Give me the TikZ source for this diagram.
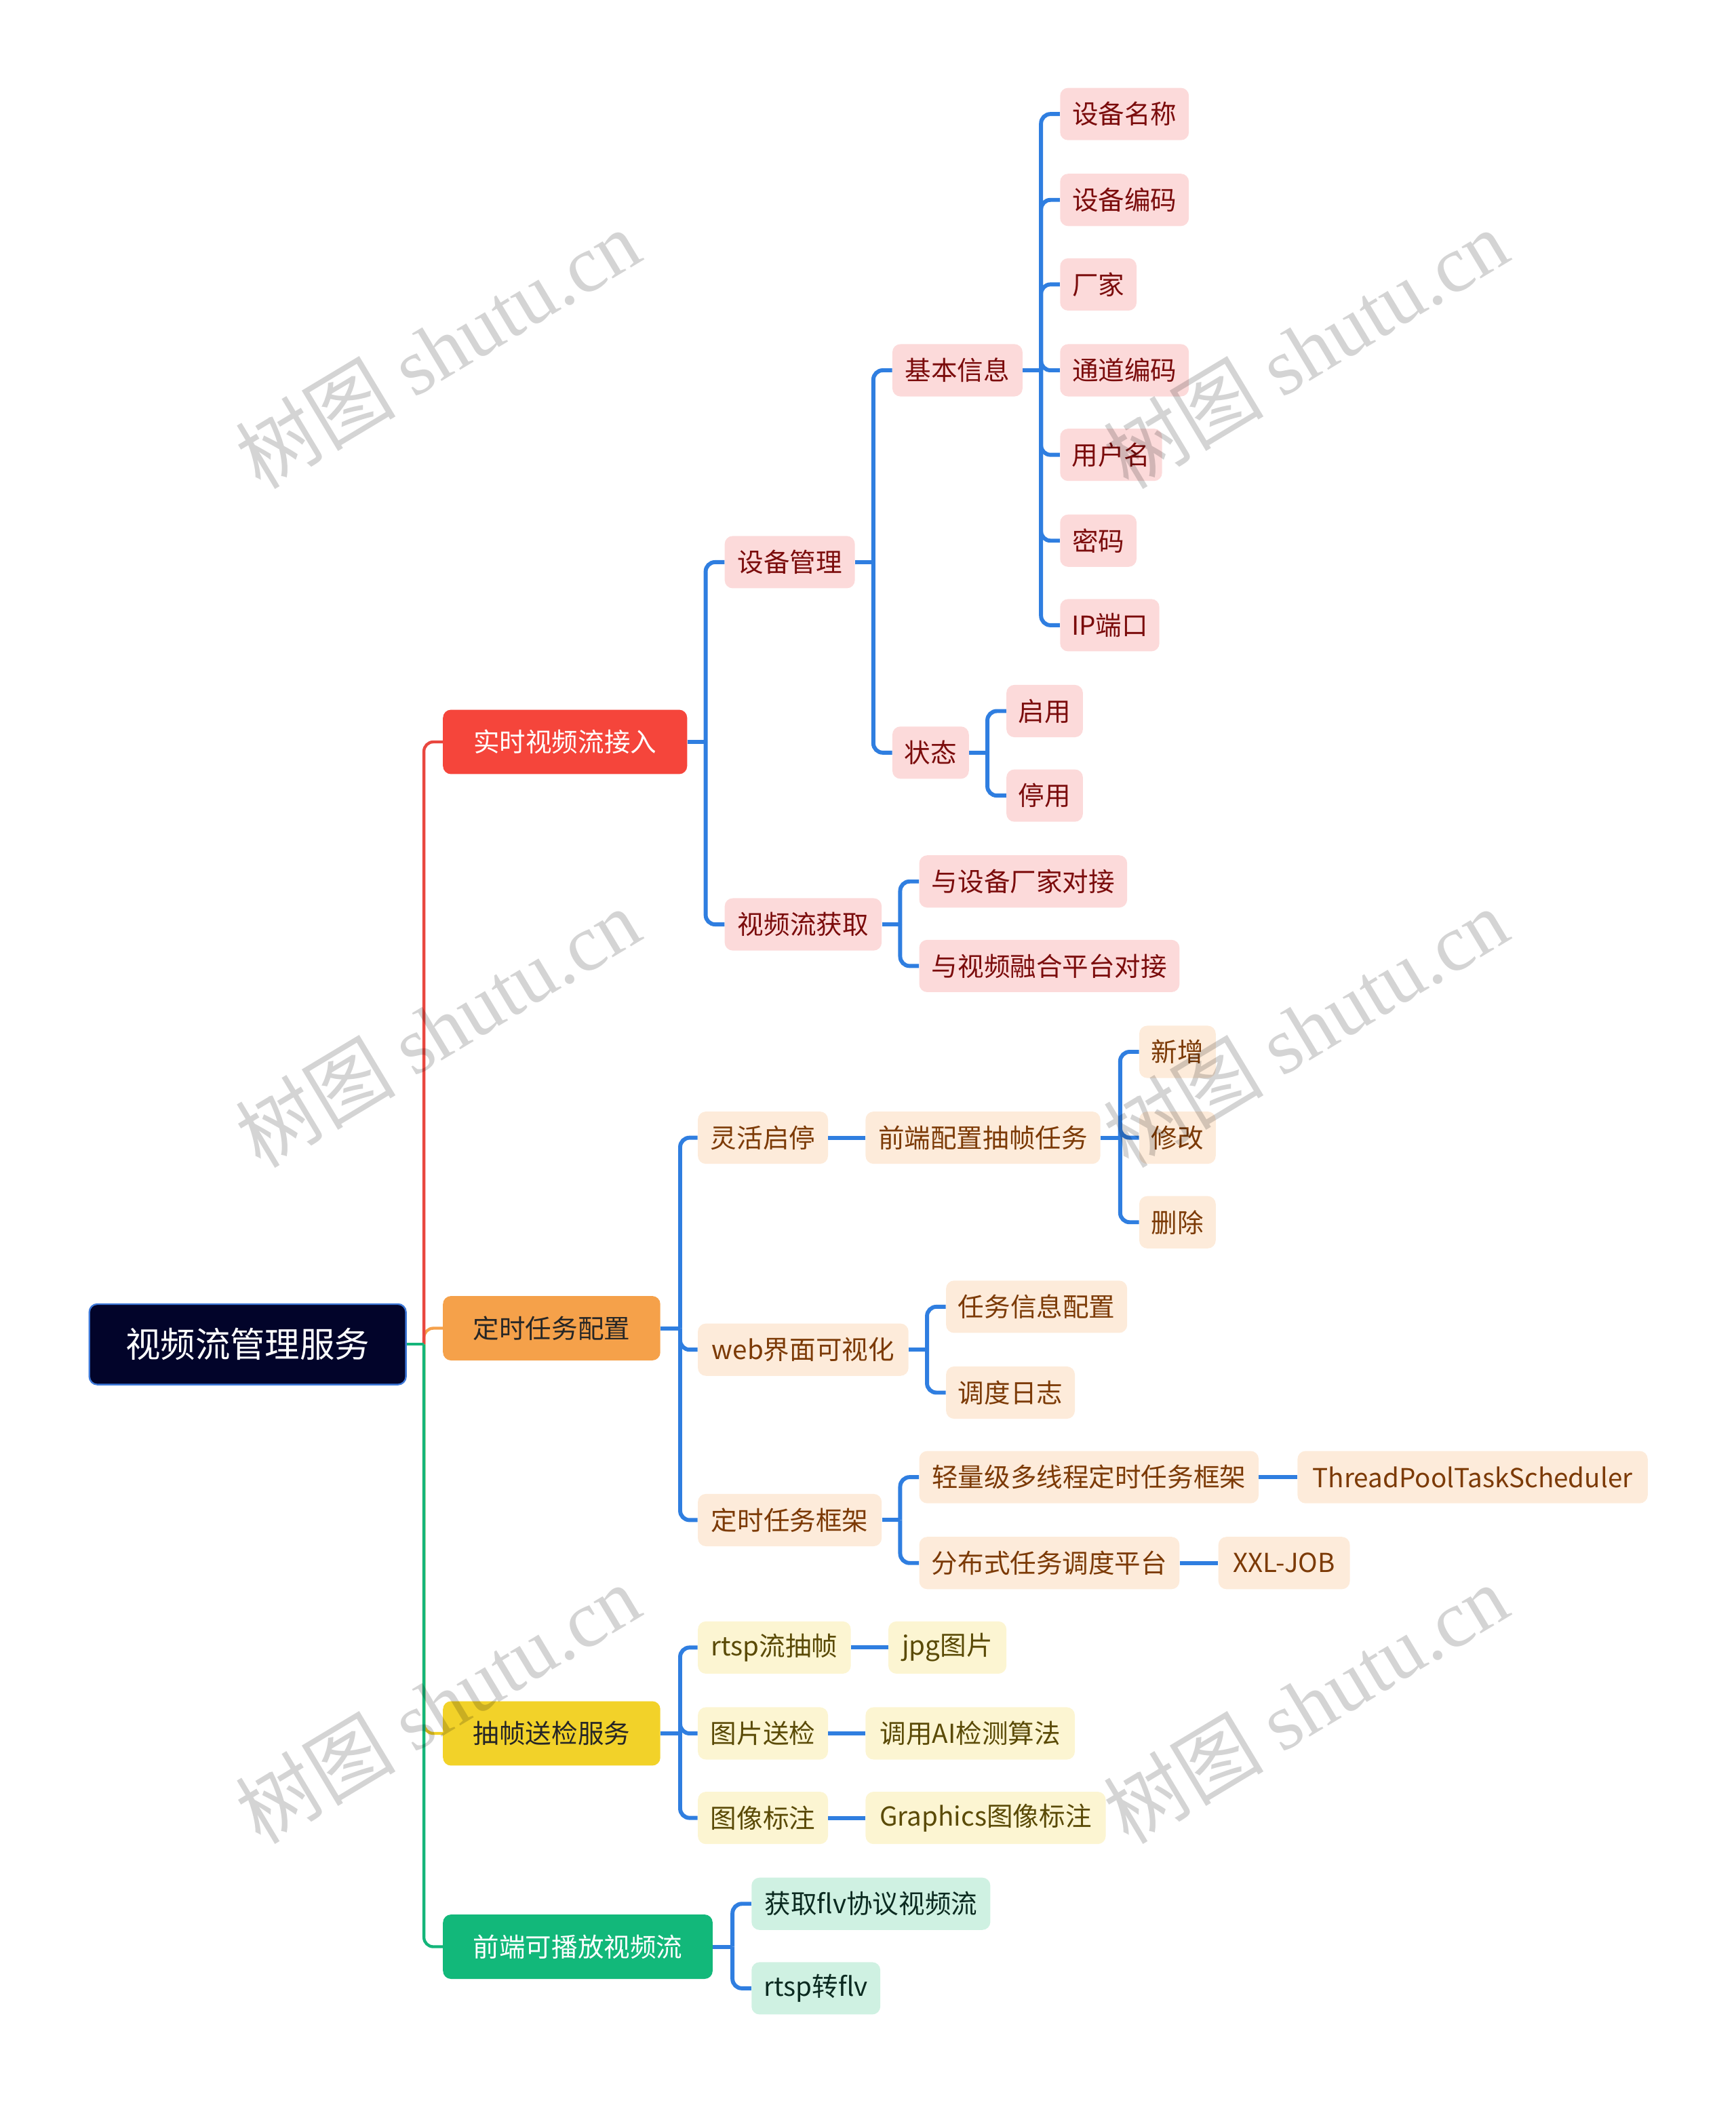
\documentclass[tikz,border=0pt]{standalone}
\usepackage{fontspec}
\setmainfont{Noto Sans CJK SC}
\newfontfamily\wmcjk{Noto Sans CJK SC}
\newfontfamily\wmlat{Liberation Serif}
\definecolor{rootfill}{HTML}{02042A}
\definecolor{rootdraw}{HTML}{3D78D8}
\definecolor{cred}{HTML}{F5453B}
\definecolor{corange}{HTML}{F5A14A}
\definecolor{cyellow}{HTML}{F2D229}
\definecolor{cgreen}{HTML}{12B87A}
\definecolor{lred}{HTML}{FCDADA}
\definecolor{tred}{HTML}{7B0C0C}
\definecolor{lorange}{HTML}{FDEBDA}
\definecolor{torange}{HTML}{7C3A06}
\definecolor{lyellow}{HTML}{FCF5D2}
\definecolor{tyellow}{HTML}{5A4A06}
\definecolor{lgreen}{HTML}{CFF1E2}
\definecolor{tgreen}{HTML}{0B2A20}
\definecolor{cblue}{HTML}{2F7EE0}
\definecolor{lnred}{HTML}{E9473F}
\definecolor{lnorange}{HTML}{F5A04A}
\definecolor{lnyellow}{HTML}{F0CF25}
\definecolor{lngreen}{HTML}{14B57A}
\begin{document}
\begin{tikzpicture}[x=1pt,y=-1pt,
  base/.style={rectangle, rounded corners=6pt, inner xsep=0pt, inner ysep=0pt, minimum height=39pt, anchor=west, font=\fontsize{19.5}{22}\selectfont},
  wd/.style={minimum width=#1},
  lone/.style={base, minimum height=48pt, text=white},
  pk/.style={base, fill=lred, text=tred},
  pc/.style={base, fill=lorange, text=torange},
  ye/.style={base, fill=lyellow, text=tyellow},
  mi/.style={base, fill=lgreen, text=tgreen},
  bl/.style={draw=cblue, line width=3pt, rounded corners=7pt},
  topl/.style={line width=2.2pt, rounded corners=7pt},
  wm/.style={text=black, text opacity=0.17, font=\fontsize{60}{60}\selectfont, rotate=31, inner sep=0pt}
]
\useasboundingbox (0,0) rectangle (1294,1567.5);

% root
\node[base, wd=236, minimum height=60pt, fill=rootfill, draw=rootdraw, line width=1.2pt, text=white, font=\fontsize{26}{30}\selectfont] (root) at (66,1002) {视频流管理服务};
\coordinate (tRoot) at (316,1002);

% level 1
\node[lone, wd=182, fill=cred] (r0) at (330,553) {实时视频流接入};
\node[lone, wd=162, fill=corange, text=black!85] (o0) at (330,990) {定时任务配置};
\node[lone, wd=162, fill=cyellow, text=black!85] (y0) at (330,1292) {抽帧送检服务};
\node[lone, wd=201, fill=cgreen] (g0) at (330,1451) {前端可播放视频流};

% red subtree
\node[pk, wd=97] (sbgl) at (540,419) {设备管理};
\node[pk, wd=117] (spl) at (540,689) {视频流获取};
\node[pk, wd=97] (jbxx) at (665,276) {基本信息};
\node[pk, wd=57] (zt) at (665,561) {状态};
\node[pk, wd=96] (a1) at (790,85) {设备名称};
\node[pk, wd=96] (a2) at (790,149) {设备编码};
\node[pk, wd=57] (a3) at (790,212) {厂家};
\node[pk, wd=96] (a4) at (790,276) {通道编码};
\node[pk, wd=76] (a5) at (790,339) {用户名};
\node[pk, wd=57] (a6) at (790,403) {密码};
\node[pk, wd=74] (a7) at (790,466) {IP端口};
\node[pk, wd=57] (qy) at (750,530) {启用};
\node[pk, wd=57] (ty) at (750,593) {停用};
\node[pk, wd=155] (dj1) at (685,657) {与设备厂家对接};
\node[pk, wd=194] (dj2) at (685,720) {与视频融合平台对接};

% orange subtree
\node[pc, wd=97] (lhqt) at (520,848) {灵活启停};
\node[pc, wd=175] (qdpz) at (645,848) {前端配置抽帧任务};
\node[pc, wd=57] (xz) at (849,784) {新增};
\node[pc, wd=57] (xg) at (849,848) {修改};
\node[pc, wd=57] (sc) at (849,911) {删除};
\node[pc, wd=157] (web) at (520,1006) {web界面可视化};
\node[pc, wd=135] (rwxx) at (705,974) {任务信息配置};
\node[pc, wd=96] (ddrz) at (705,1038) {调度日志};
\node[pc, wd=137] (dskj) at (520,1133) {定时任务框架};
\node[pc, wd=253] (qlj) at (685,1101) {轻量级多线程定时任务框架};
\node[pc, wd=261] (tpts) at (967,1101) {ThreadPoolTaskScheduler};
\node[pc, wd=194] (fbs) at (685,1165) {分布式任务调度平台};
\node[pc, wd=98] (xxl) at (908,1165) {XXL-JOB};

% yellow subtree
\node[ye, wd=114] (rtsp) at (520,1228) {rtsp流抽帧};
\node[ye, wd=88] (jpg) at (662,1228) {jpg图片};
\node[ye, wd=97] (tpsj) at (520,1292) {图片送检};
\node[ye, wd=156] (ai) at (645,1292) {调用AI检测算法};
\node[ye, wd=97] (txbz) at (520,1355) {图像标注};
\node[ye, wd=179] (gra) at (645,1355) {Graphics图像标注};

% green subtree
\node[mi, wd=178] (flv) at (560,1419) {获取flv协议视频流};
\node[mi, wd=96] (zflv) at (560,1482) {rtsp转flv};

% trunks
\coordinate (tR) at (526,0);
\coordinate (tS) at (651,0);
\coordinate (tJ) at (776,0);
\coordinate (tZ) at (736,0);
\coordinate (tV) at (671,0);
\coordinate (tO) at (507,0);
\coordinate (tQ) at (835,0);
\coordinate (tW) at (691,0);
\coordinate (tD) at (671,0);
\coordinate (tY) at (507,0);
\coordinate (tG) at (546,0);

% top-level connectors
\draw[topl, draw=lnyellow] (tRoot) |- (y0.west);
\draw[topl, draw=lnorange] (tRoot) |- (o0.west);
\draw[topl, draw=lnred] (tRoot) |- (r0.west);
\draw[topl, draw=lngreen] (tRoot) |- (g0.west);
\draw[topl, draw=lngreen, rounded corners=0pt] (root.east) -- (tRoot);

% red connectors
\draw[bl] (r0.east) -- (r0.east -| tR);
\foreach \c in {sbgl,spl} \draw[bl] (r0.east -| tR) |- (\c.west);
\draw[bl] (sbgl.east) -- (sbgl.east -| tS);
\foreach \c in {jbxx,zt} \draw[bl] (sbgl.east -| tS) |- (\c.west);
\draw[bl] (jbxx.east) -- (jbxx.east -| tJ);
\foreach \c in {a1,a2,a3,a4,a5,a6,a7} \draw[bl] (jbxx.east -| tJ) |- (\c.west);
\draw[bl] (zt.east) -- (zt.east -| tZ);
\foreach \c in {qy,ty} \draw[bl] (zt.east -| tZ) |- (\c.west);
\draw[bl] (spl.east) -- (spl.east -| tV);
\foreach \c in {dj1,dj2} \draw[bl] (spl.east -| tV) |- (\c.west);

% orange connectors
\draw[bl] (o0.east) -- (o0.east -| tO);
\foreach \c in {lhqt,web,dskj} \draw[bl] (o0.east -| tO) |- (\c.west);
\draw[bl] (lhqt.east) -- (qdpz.west);
\draw[bl] (qdpz.east) -- (qdpz.east -| tQ);
\foreach \c in {xz,xg,sc} \draw[bl] (qdpz.east -| tQ) |- (\c.west);
\draw[bl] (web.east) -- (web.east -| tW);
\foreach \c in {rwxx,ddrz} \draw[bl] (web.east -| tW) |- (\c.west);
\draw[bl] (dskj.east) -- (dskj.east -| tD);
\foreach \c in {qlj,fbs} \draw[bl] (dskj.east -| tD) |- (\c.west);
\draw[bl] (qlj.east) -- (tpts.west);
\draw[bl] (fbs.east) -- (xxl.west);

% yellow connectors
\draw[bl] (y0.east) -- (y0.east -| tY);
\foreach \c in {rtsp,tpsj,txbz} \draw[bl] (y0.east -| tY) |- (\c.west);
\draw[bl] (rtsp.east) -- (jpg.west);
\draw[bl] (tpsj.east) -- (ai.west);
\draw[bl] (txbz.east) -- (gra.west);

% green connectors
\draw[bl] (g0.east) -- (g0.east -| tG);
\foreach \c in {flv,zflv} \draw[bl] (g0.east -| tG) |- (\c.west);

% watermarks
\foreach \wx/\wy [count=\i] in {326/260, 973/260, 326/766, 973/766, 326/1270, 973/1270}
  \node[wm] (wm\i) at (\wx,\wy) {{\wmcjk 树图} {\wmlat shutu.cn}};
\end{tikzpicture}
\end{document}
